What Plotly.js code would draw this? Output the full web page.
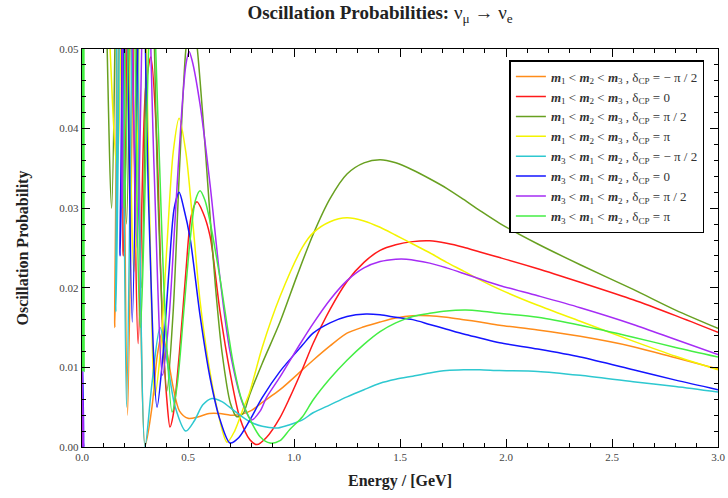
<!DOCTYPE html>
<html>
<head>
<meta charset="utf-8">
<script src="https://cdn.plot.ly/plotly-3.0.1.min.js"></script>
<style>html,body{margin:0;padding:0;background:#fff;}#chart{width:728px;height:498px;}</style>
</head>
<body>
<div id="chart"></div>
<script>
// Energy (GeV) and probability values
var E_orange = [0.012,0.06,0.10,0.13,0.155,0.185,0.215,0.255,0.298,0.33,0.355,0.377,0.40,0.43,0.46,0.50,0.55,0.60,0.65,0.70,0.75,0.80,0.85,0.934,1.04,1.09,1.17,1.25,1.33,1.406,1.48,1.56,1.64,1.72,1.80,1.877,1.97,2.15,2.35,2.6,2.8,3.0];
var P_orange = [0.09,0.09,0.07,0.07,0.015,0.07,0.004,0.07,0.0002,0.005,0.0115,0.0143,0.012,0.0075,0.0045,0.0036,0.0038,0.0042,0.0042,0.0040,0.0041,0.0046,0.0056,0.0072,0.0097,0.0109,0.0127,0.0143,0.0151,0.0157,0.0162,0.0165,0.0165,0.0163,0.0160,0.0157,0.0153,0.0147,0.0139,0.0126,0.0112,0.0098];

var E_red = [0.012,0.06,0.10,0.15,0.195,0.225,0.265,0.30,0.325,0.35,0.38,0.40,0.415,0.43,0.46,0.49,0.515,0.542,0.57,0.604,0.651,0.698,0.745,0.792,0.825,0.87,0.934,0.98,1.04,1.09,1.17,1.25,1.33,1.406,1.48,1.56,1.64,1.72,1.80,1.877,1.97,2.15,2.35,2.6,2.8,3.0];
var P_red = [0.09,0.09,0.07,0.07,0.024,0.07,0.013,0.045,0.049,0.040,0.015,0.006,0.0025,0.004,0.012,0.022,0.029,0.0308,0.0295,0.0265,0.017,0.0094,0.0036,0.0009,0.0003,0.0012,0.0037,0.0062,0.0098,0.0130,0.0173,0.0208,0.0232,0.0247,0.0254,0.0258,0.0259,0.0256,0.0251,0.0245,0.0238,0.0224,0.0207,0.0185,0.0165,0.0144];

var E_olive = [0.012,0.06,0.10,0.14,0.17,0.21,0.24,0.28,0.32,0.36,0.40,0.43,0.46,0.49,0.515,0.54,0.557,0.58,0.604,0.63,0.66,0.70,0.73,0.76,0.79,0.85,0.934,1.014,1.09,1.17,1.25,1.33,1.406,1.48,1.56,1.64,1.72,1.80,1.877,1.97,2.15,2.35,2.6,2.8,3.0];
var P_olive = [0.09,0.09,0.07,0.03,0.07,0.028,0.07,0.02,0.07,0.03,0.007,0.017,0.035,0.050,0.055,0.051,0.046,0.038,0.029,0.020,0.012,0.0055,0.0038,0.0042,0.0065,0.0105,0.0157,0.0215,0.0267,0.0312,0.0343,0.0357,0.0361,0.0357,0.0348,0.0337,0.0325,0.0311,0.0297,0.0281,0.0255,0.0229,0.0198,0.0172,0.0149];

var E_yellow = [0.012,0.06,0.10,0.165,0.20,0.245,0.285,0.32,0.344,0.37,0.40,0.43,0.458,0.49,0.52,0.557,0.60,0.64,0.684,0.72,0.76,0.79,0.85,0.934,1.04,1.09,1.17,1.25,1.33,1.406,1.48,1.56,1.64,1.72,1.80,1.877,1.97,2.15,2.35,2.6,2.8,3.0];
var P_yellow = [0.09,0.09,0.07,0.035,0.07,0.022,0.07,0.028,0.0065,0.012,0.025,0.037,0.0413,0.037,0.029,0.0183,0.010,0.0045,0.0006,0.002,0.0048,0.0068,0.0125,0.0189,0.0251,0.0269,0.0283,0.0288,0.0284,0.0276,0.0266,0.0255,0.0244,0.0232,0.0221,0.0210,0.0198,0.0178,0.0158,0.0133,0.0114,0.0097];

var E_cyan = [0.012,0.06,0.10,0.13,0.16,0.185,0.21,0.25,0.297,0.33,0.368,0.40,0.44,0.49,0.53,0.57,0.613,0.66,0.72,0.79,0.85,0.925,0.98,1.04,1.09,1.17,1.25,1.33,1.406,1.48,1.56,1.64,1.72,1.80,1.877,1.97,2.15,2.35,2.6,2.8,3.0];
var P_cyan = [0.09,0.09,0.07,0.07,0.017,0.07,0.005,0.07,0.0,0.008,0.015,0.011,0.005,0.002,0.0033,0.0053,0.0061,0.0057,0.0045,0.0032,0.0026,0.0024,0.0028,0.0034,0.0043,0.0053,0.0063,0.0072,0.0080,0.0085,0.0089,0.0093,0.0096,0.0097,0.0097,0.0096,0.0095,0.0090,0.0082,0.0076,0.0069];

var E_blue = [0.002,0.006,0.009,0.015,0.06,0.10,0.15,0.18,0.205,0.237,0.28,0.315,0.354,0.38,0.41,0.435,0.458,0.48,0.51,0.557,0.604,0.65,0.698,0.74,0.79,0.85,0.934,1.04,1.09,1.17,1.25,1.34,1.406,1.48,1.56,1.64,1.72,1.80,1.877,1.97,2.15,2.35,2.6,2.8,3.0];
var P_blue = [0.0,0.001,0.0,0.09,0.09,0.07,0.07,0.024,0.07,0.0157,0.07,0.03,0.005,0.011,0.022,0.030,0.032,0.030,0.0262,0.0165,0.0087,0.0035,0.0005,0.0012,0.0033,0.0062,0.0095,0.0128,0.0143,0.0156,0.0164,0.0167,0.0166,0.0163,0.0160,0.0154,0.0148,0.0142,0.0137,0.0131,0.0123,0.0113,0.0097,0.0084,0.0072];

var E_purple = [0.0,0.001,0.002,0.0045,0.007,0.014,0.06,0.10,0.15,0.19,0.22,0.26,0.30,0.34,0.38,0.41,0.44,0.47,0.49,0.505,0.52,0.557,0.604,0.651,0.698,0.76,0.80,0.84,0.87,0.934,1.03,1.09,1.17,1.25,1.33,1.406,1.48,1.53,1.64,1.72,1.80,1.877,1.97,2.15,2.35,2.6,2.8,3.0];
var P_purple = [0.0005,0.0195,0.0,0.006,0.0,0.09,0.09,0.07,0.07,0.03,0.07,0.025,0.07,0.035,0.009,0.016,0.029,0.042,0.048,0.0497,0.0485,0.043,0.033,0.0212,0.012,0.0053,0.0034,0.0045,0.0062,0.0088,0.0130,0.0155,0.0185,0.0209,0.0225,0.0233,0.0236,0.0236,0.0231,0.0225,0.0218,0.0211,0.0203,0.0190,0.0175,0.0154,0.0135,0.0116];

var E_lgreen = [0.002,0.004,0.006,0.008,0.010,0.012,0.014,0.06,0.10,0.16,0.20,0.235,0.275,0.33,0.36,0.39,0.425,0.45,0.48,0.51,0.535,0.557,0.58,0.604,0.651,0.712,0.75,0.79,0.84,0.887,0.934,0.98,1.04,1.09,1.17,1.25,1.33,1.406,1.48,1.56,1.64,1.72,1.81,1.877,1.97,2.15,2.35,2.6,2.8,3.0];
var P_lgreen = [0.0095,0.09,0.0095,0.09,0.0095,0.09,0.09,0.09,0.07,0.07,0.03,0.07,0.015,0.06,0.04,0.018,0.0044,0.008,0.017,0.026,0.031,0.0322,0.031,0.0283,0.0212,0.0107,0.0062,0.0036,0.0013,0.0005,0.0008,0.0022,0.0038,0.0059,0.0086,0.0109,0.0129,0.0145,0.0156,0.0164,0.0168,0.0171,0.0172,0.0171,0.0168,0.0163,0.0153,0.0138,0.0125,0.0113];

var seriesNames = [
  '<b><i>m</i></b><sub>1</sub> &lt; <b><i>m</i></b><sub>2</sub> &lt; <b><i>m</i></b><sub>3</sub> , δ<sub>CP</sub> = − π / 2',
  '<b><i>m</i></b><sub>1</sub> &lt; <b><i>m</i></b><sub>2</sub> &lt; <b><i>m</i></b><sub>3</sub> , δ<sub>CP</sub> = 0',
  '<b><i>m</i></b><sub>1</sub> &lt; <b><i>m</i></b><sub>2</sub> &lt; <b><i>m</i></b><sub>3</sub> , δ<sub>CP</sub> = π / 2',
  '<b><i>m</i></b><sub>1</sub> &lt; <b><i>m</i></b><sub>2</sub> &lt; <b><i>m</i></b><sub>3</sub> , δ<sub>CP</sub> = π',
  '<b><i>m</i></b><sub>3</sub> &lt; <b><i>m</i></b><sub>1</sub> &lt; <b><i>m</i></b><sub>2</sub> , δ<sub>CP</sub> = − π / 2',
  '<b><i>m</i></b><sub>3</sub> &lt; <b><i>m</i></b><sub>1</sub> &lt; <b><i>m</i></b><sub>2</sub> , δ<sub>CP</sub> = 0',
  '<b><i>m</i></b><sub>3</sub> &lt; <b><i>m</i></b><sub>1</sub> &lt; <b><i>m</i></b><sub>2</sub> , δ<sub>CP</sub> = π / 2',
  '<b><i>m</i></b><sub>3</sub> &lt; <b><i>m</i></b><sub>1</sub> &lt; <b><i>m</i></b><sub>2</sub> , δ<sub>CP</sub> = π'
];
var seriesColors = ['#ff8c1a','#ff1a1a','#68a020','#f4f400','#2ec8d0','#1414ff','#a52cf5','#44ee44'];
var seriesE = [E_orange,E_red,E_olive,E_yellow,E_cyan,E_blue,E_purple,E_lgreen];
var seriesP = [P_orange,P_red,P_olive,P_yellow,P_cyan,P_blue,P_purple,P_lgreen];

var serif = '"Liberation Serif", "DejaVu Serif", serif';
var traces = [];
for (var i = 0; i < seriesE.length; i++) {
  traces.push({
    x: seriesE[i], y: seriesP[i], type: 'scatter', mode: 'lines',
    name: seriesNames[i],
    line: {color: seriesColors[i], width: 1.5, shape: 'spline', smoothing: 0.8}
  });
}

var layout = {
  width: 728, height: 498,
  margin: {l: 82, r: 10, t: 49, b: 51, autoexpand: false},
  paper_bgcolor: '#fff', plot_bgcolor: '#fff',
  font: {family: serif, color: '#222'},
  title: {
    text: '<b>Oscillation Probabilities:</b> ν<sub>μ</sub> → ν<sub>e</sub>',
    font: {family: serif, size: 19, color: '#222'},
    x: 0.522, xref: 'container', xanchor: 'center',
    y: 0.988, yref: 'container', yanchor: 'top'
  },
  xaxis: {
    range: [0, 3], dtick: 0.5, tick0: 0, tickformat: '.1f',
    ticks: 'inside', ticklen: 8, tickwidth: 1, tickcolor: '#000',
    showline: true, linecolor: '#000', linewidth: 1.2, mirror: 'allticks',
    showgrid: false, zeroline: false,
    minor: {dtick: 0.1, ticks: 'inside', ticklen: 4, tickcolor: '#000', showgrid: false},
    tickfont: {family: serif, size: 11, color: '#444'},
    title: {text: '<b>Energy / [GeV]</b>', font: {family: serif, size: 16, color: '#222'}, standoff: 12}
  },
  yaxis: {
    range: [0, 0.05], dtick: 0.01, tick0: 0, tickformat: '.2f',
    ticks: 'inside', ticklen: 8, tickwidth: 1, tickcolor: '#000',
    showline: true, linecolor: '#000', linewidth: 1.2, mirror: 'allticks',
    showgrid: false, zeroline: false,
    minor: {dtick: 0.002, ticks: 'inside', ticklen: 4, tickcolor: '#000', showgrid: false},
    tickfont: {family: serif, size: 11, color: '#444'},
    title: {text: '<b>Oscillation Probability</b>', font: {family: serif, size: 16, color: '#222'}, standoff: 26}
  },
  legend: {
    x: 0.672, y: 0.972, xanchor: 'left', yanchor: 'top',
    bgcolor: '#fff', bordercolor: '#000', borderwidth: 1.5,
    font: {family: serif, size: 13, color: '#333'},
    itemwidth: 30, tracegroupgap: 0
  },
  showlegend: true
};

Plotly.newPlot('chart', traces, layout, {displayModeBar: false, staticPlot: true});
</script>
</body>
</html>
